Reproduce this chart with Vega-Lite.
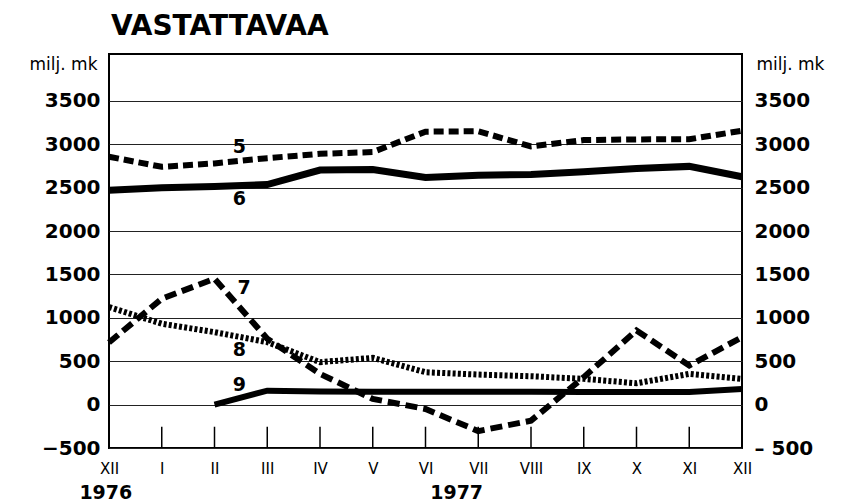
{
  "$schema": "https://vega.github.io/schema/vega-lite/v6.json",
  "width": 633,
  "height": 394,
  "autosize": {"type": "none"},
  "padding": {"left": 109, "top": 54, "right": 106, "bottom": 56},
  "background": "white",
  "title": {"text": "VASTATTAVAA", "anchor": "start", "frame": "group", "font": "DejaVu Sans", "fontSize": 28, "fontWeight": "bold", "color": "black", "offset": 21, "baseline": "alphabetic", "dx": 2, "dy": 30},
  "config": {"view": {"stroke": "black", "strokeWidth": 2}, "font": "DejaVu Sans"},
  "datasets": {
    "series": [
      {"s": "5", "m": 0, "v": 2856}, {"s": "5", "m": 1, "v": 2740}, {"s": "5", "m": 2, "v": 2779}, {"s": "5", "m": 3, "v": 2840}, {"s": "5", "m": 4, "v": 2890}, {"s": "5", "m": 5, "v": 2910}, {"s": "5", "m": 6, "v": 3145}, {"s": "5", "m": 7, "v": 3150}, {"s": "5", "m": 8, "v": 2975}, {"s": "5", "m": 9, "v": 3048}, {"s": "5", "m": 10, "v": 3056}, {"s": "5", "m": 11, "v": 3058}, {"s": "5", "m": 12, "v": 3156},
      {"s": "6", "m": 0, "v": 2471}, {"s": "6", "m": 1, "v": 2500}, {"s": "6", "m": 2, "v": 2512}, {"s": "6", "m": 3, "v": 2535}, {"s": "6", "m": 4, "v": 2702}, {"s": "6", "m": 5, "v": 2710}, {"s": "6", "m": 6, "v": 2618}, {"s": "6", "m": 7, "v": 2644}, {"s": "6", "m": 8, "v": 2652}, {"s": "6", "m": 9, "v": 2682}, {"s": "6", "m": 10, "v": 2721}, {"s": "6", "m": 11, "v": 2745}, {"s": "6", "m": 12, "v": 2625},
      {"s": "7", "m": 0, "v": 716}, {"s": "7", "m": 1, "v": 1220}, {"s": "7", "m": 2, "v": 1451}, {"s": "7", "m": 3, "v": 759}, {"s": "7", "m": 4, "v": 354}, {"s": "7", "m": 5, "v": 66}, {"s": "7", "m": 6, "v": -50}, {"s": "7", "m": 7, "v": -305}, {"s": "7", "m": 8, "v": -185}, {"s": "7", "m": 9, "v": 316}, {"s": "7", "m": 10, "v": 855}, {"s": "7", "m": 11, "v": 450}, {"s": "7", "m": 12, "v": 777},
      {"s": "8", "m": 0, "v": 1124}, {"s": "8", "m": 1, "v": 932}, {"s": "8", "m": 2, "v": 835}, {"s": "8", "m": 3, "v": 720}, {"s": "8", "m": 4, "v": 489}, {"s": "8", "m": 5, "v": 539}, {"s": "8", "m": 6, "v": 373}, {"s": "8", "m": 7, "v": 346}, {"s": "8", "m": 8, "v": 327}, {"s": "8", "m": 9, "v": 297}, {"s": "8", "m": 10, "v": 246}, {"s": "8", "m": 11, "v": 354}, {"s": "8", "m": 12, "v": 297},
      {"s": "9", "m": 2, "v": 0}, {"s": "9", "m": 3, "v": 160}, {"s": "9", "m": 4, "v": 150}, {"s": "9", "m": 5, "v": 148}, {"s": "9", "m": 6, "v": 148}, {"s": "9", "m": 7, "v": 148}, {"s": "9", "m": 8, "v": 148}, {"s": "9", "m": 9, "v": 145}, {"s": "9", "m": 10, "v": 145}, {"s": "9", "m": 11, "v": 145}, {"s": "9", "m": 12, "v": 181}
    ],
    "ticks": [{"m": 1}, {"m": 2}, {"m": 3}, {"m": 4}, {"m": 5}, {"m": 6}, {"m": 7}, {"m": 8}, {"m": 9}, {"m": 10}, {"m": 11}],
    "labels": [
      {"t": "5", "m": 2.47, "v": 2968},
      {"t": "6", "m": 2.47, "v": 2370},
      {"t": "7", "m": 2.56, "v": 1345},
      {"t": "8", "m": 2.47, "v": 624},
      {"t": "9", "m": 2.47, "v": 231}
    ],
    "years": [
      {"t": "1976", "m": -0.06, "v": -1085},
      {"t": "1977", "m": 6.59, "v": -1085}
    ]
  },
  "encoding": {
    "x": {
      "field": "m", "type": "quantitative",
      "scale": {"domain": [0, 12], "nice": false, "zero": false},
      "axis": {
        "values": [0, 1, 2, 3, 4, 5, 6, 7, 8, 9, 10, 11, 12],
        "labelExpr": "['XII','I','II','III','IV','V','VI','VII','VIII','IX','X','XI','XII'][datum.value]",
        "ticks": false, "domain": false, "grid": false,
        "labelPadding": 13, "labelFontSize": 15, "labelFont": "DejaVu Sans", "labelColor": "black",
        "labelFlush": false, "labelOverlap": false, "title": null
      }
    }
  },
  "layer": [
    {
      "data": {"name": "ticks"},
      "mark": {"type": "rule", "color": "black", "strokeWidth": 1.5},
      "encoding": {
        "y": {"datum": -500, "type": "quantitative", "scale": {"domain": [-500, 4040], "nice": false, "zero": false},
          "axis": {
            "orient": "left",
            "values": [-500, 0, 500, 1000, 1500, 2000, 2500, 3000, 3500],
            "format": "d",
            "grid": true, "gridColor": "#222", "gridWidth": 1,
            "ticks": false, "domain": false,
            "labelFont": "DejaVu Sans", "labelFontSize": 20, "labelFontWeight": "bold", "labelColor": "black",
            "labelPadding": 9, "labelFlush": false, "labelOverlap": false,
            "title": "milj. mk", "titleAngle": 0, "titleAlign": "right", "titleBaseline": "alphabetic",
            "titleX": -12, "titleY": 15, "titleFont": "DejaVu Sans", "titleFontSize": 17, "titleFontWeight": "normal", "titleColor": "black"
          }
        },
        "y2": {"datum": -255}
      }
    },
    {
      "data": {"name": "series"},
      "transform": [{"filter": "datum.s == '5'"}],
      "mark": {"type": "line", "color": "black", "strokeWidth": 6, "strokeDash": [10, 5]},
      "encoding": {"y": {"field": "v", "type": "quantitative", "axis": null}}
    },
    {
      "data": {"name": "series"},
      "transform": [{"filter": "datum.s == '6'"}],
      "mark": {"type": "line", "color": "black", "strokeWidth": 7},
      "encoding": {"y": {"field": "v", "type": "quantitative", "axis": null}}
    },
    {
      "data": {"name": "series"},
      "transform": [{"filter": "datum.s == '7'"}],
      "mark": {"type": "line", "color": "black", "strokeWidth": 6, "strokeDash": [12, 6]},
      "encoding": {"y": {"field": "v", "type": "quantitative", "axis": null}}
    },
    {
      "data": {"name": "series"},
      "transform": [{"filter": "datum.s == '8'"}],
      "mark": {"type": "line", "color": "black", "strokeWidth": 6, "strokeDash": [3, 2.2]},
      "encoding": {"y": {"field": "v", "type": "quantitative", "axis": null}}
    },
    {
      "data": {"name": "series"},
      "transform": [{"filter": "datum.s == '9'"}],
      "mark": {"type": "line", "color": "black", "strokeWidth": 6},
      "encoding": {"y": {"field": "v", "type": "quantitative", "axis": null}}
    },
    {
      "data": {"name": "labels"},
      "mark": {"type": "text", "font": "DejaVu Sans", "fontSize": 19, "fontWeight": "bold", "color": "black", "align": "center", "baseline": "middle"},
      "encoding": {
        "text": {"field": "t"},
        "y": {"field": "v", "type": "quantitative",
          "axis": {
            "orient": "right",
            "values": [-500, 0, 500, 1000, 1500, 2000, 2500, 3000, 3500],
            "format": "d",
            "labelExpr": "datum.value < 0 ? '– 500' : datum.label",
            "grid": false, "ticks": false, "domain": false,
            "labelFont": "DejaVu Sans", "labelFontSize": 20, "labelFontWeight": "bold", "labelColor": "black",
            "labelPadding": 12, "labelAlign": "left", "labelFlush": false, "labelOverlap": false,
            "title": "milj. mk", "titleAngle": 0, "titleAlign": "left", "titleBaseline": "alphabetic",
            "titleX": 14, "titleY": 15, "titleFont": "DejaVu Sans", "titleFontSize": 17, "titleFontWeight": "normal", "titleColor": "black"
          }
        }
      }
    },
    {
      "data": {"name": "years"},
      "mark": {"type": "text", "font": "DejaVu Sans", "fontSize": 19, "fontWeight": "bold", "color": "black", "align": "center", "baseline": "alphabetic"},
      "encoding": {
        "text": {"field": "t"},
        "y": {"field": "v", "type": "quantitative", "axis": null}
      }
    }
  ],
  "resolve": {"axis": {"y": "independent"}}
}
